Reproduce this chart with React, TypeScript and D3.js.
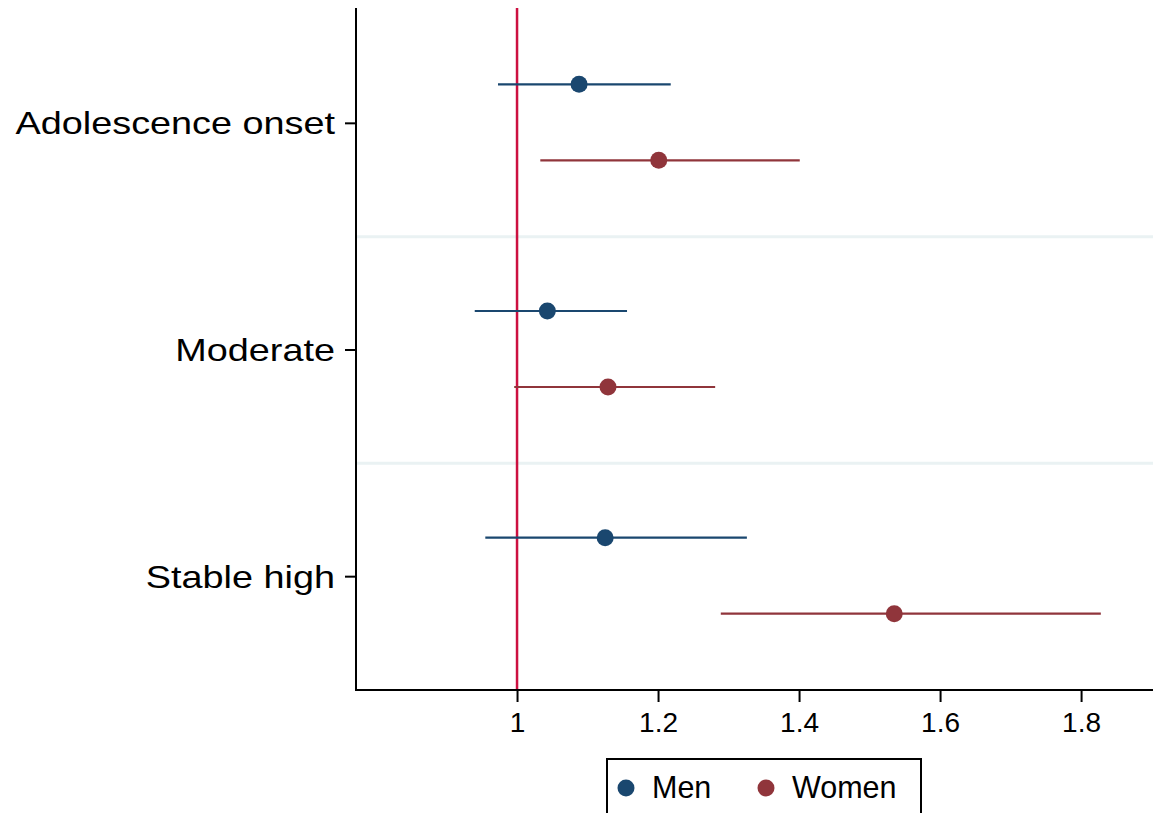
import * as d3 from "d3";
import React from "react";

// estimates (odds ratios with 95% CI)
const categories = ["Adolescence onset", "Moderate", "Stable high"];
const menEst = [1.088, 1.043, 1.125];
const menLo = [0.973, 0.94, 0.955];
const menHi = [1.218, 1.156, 1.326];
const womenEst = [1.201, 1.129, 1.535];
const womenLo = [1.033, 0.996, 1.289];
const womenHi = [1.401, 1.281, 1.828];
const xTicks = [1, 1.2, 1.4, 1.6, 1.8];

const series = [
  { name: "Men", color: "#1a476f", est: menEst, lo: menLo, hi: menHi, offset: -39 },
  { name: "Women", color: "#90353b", est: womenEst, lo: womenLo, hi: womenHi, offset: 37 },
];

const App = () => {
  const ref = React.useRef<SVGSVGElement>(null);

  React.useEffect(() => {
    const width = 1153,
      height = 813;
    const left = 356,
      right = 1153,
      top = 8,
      bottom = 690;
    const svg = d3.select(ref.current);
    svg.selectAll("*").remove();
    svg.attr("width", width).attr("height", height);

    const x = d3.scaleLinear().domain([0.7716, 1.902]).range([left, right]);
    const y = d3.scaleBand().domain(categories).range([10, bottom]);
    const font = "Liberation Sans, Arial, sans-serif";

    // separators between groups
    categories.slice(1).forEach((c) => {
      svg
        .append("line")
        .attr("x1", left)
        .attr("x2", right)
        .attr("y1", y(c))
        .attr("y2", y(c))
        .attr("stroke", "#eaf2f3")
        .attr("stroke-width", 3);
    });

    // reference line at 1
    svg
      .append("line")
      .attr("x1", x(1))
      .attr("x2", x(1))
      .attr("y1", top)
      .attr("y2", bottom)
      .attr("stroke", "#cc1040")
      .attr("stroke-width", 2.5);

    // CI lines and points
    series.forEach((s) => {
      const g = svg.append("g");
      g.selectAll("line")
        .data(categories)
        .enter()
        .append("line")
        .attr("x1", (_, i) => x(s.lo[i]))
        .attr("x2", (_, i) => x(s.hi[i]))
        .attr("y1", (d) => y(d)! + y.bandwidth() / 2 + s.offset)
        .attr("y2", (d) => y(d)! + y.bandwidth() / 2 + s.offset)
        .attr("stroke", s.color)
        .attr("stroke-width", 2.2);
      g.selectAll("circle")
        .data(categories)
        .enter()
        .append("circle")
        .attr("cx", (_, i) => x(s.est[i]))
        .attr("cy", (d) => y(d)! + y.bandwidth() / 2 + s.offset)
        .attr("r", 8.5)
        .attr("fill", s.color);
    });

    // axes
    const xAxis = svg
      .append("g")
      .attr("transform", `translate(0,${bottom})`)
      .call(d3.axisBottom(x).tickValues(xTicks).tickSize(12).tickPadding(10).tickFormat(d3.format("")));
    xAxis.select(".domain").remove();
    xAxis.selectAll("line").attr("stroke", "#000").attr("stroke-width", 2);
    xAxis.selectAll("text").attr("font-family", font).attr("font-size", 28).attr("fill", "#000");
    svg
      .append("line")
      .attr("x1", left)
      .attr("x2", right)
      .attr("y1", bottom)
      .attr("y2", bottom)
      .attr("stroke", "#000")
      .attr("stroke-width", 2);

    svg
      .append("line")
      .attr("x1", left)
      .attr("x2", left)
      .attr("y1", top)
      .attr("y2", bottom + 1)
      .attr("stroke", "#000")
      .attr("stroke-width", 2);

    categories.forEach((c) => {
      const cy = y(c)! + y.bandwidth() / 2;
      svg
        .append("line")
        .attr("x1", left - 11)
        .attr("x2", left)
        .attr("y1", cy)
        .attr("y2", cy)
        .attr("stroke", "#000")
        .attr("stroke-width", 2);
      svg
        .append("g")
        .attr("transform", `translate(335,${cy + 11}) scale(1.22,1)`)
        .append("text")
        .attr("text-anchor", "end")
        .attr("font-family", font)
        .attr("font-size", 31)
        .text(c);
    });

    // legend
    const legend = svg.append("g");
    legend
      .append("rect")
      .attr("x", 607)
      .attr("y", 759)
      .attr("width", 314)
      .attr("height", 80)
      .attr("fill", "#fff")
      .attr("stroke", "#000")
      .attr("stroke-width", 2);
    const legX = [626, 766];
    series.forEach((s, i) => {
      legend
        .append("circle")
        .attr("cx", legX[i])
        .attr("cy", 788)
        .attr("r", 8.5)
        .attr("fill", s.color);
      legend
        .append("text")
        .attr("x", legX[i] + 26)
        .attr("y", 798)
        .attr("font-family", font)
        .attr("font-size", 30.5)
        .text(s.name);
    });
  }, []);

  return <svg ref={ref} style={{ position: "absolute", left: 0, top: 0, background: "#fff" }} />;
};

export default App;
